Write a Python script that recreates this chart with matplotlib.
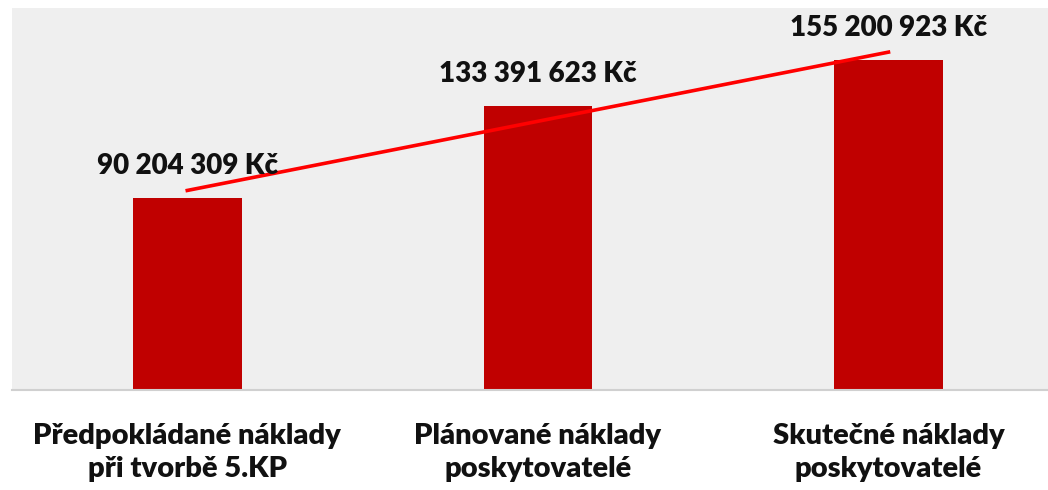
import numpy as np
import matplotlib
matplotlib.use("Agg")
from matplotlib import pyplot as plt

# data
categories = ["Předpokládané náklady\npři tvorbě 5.KP",
              "Plánované náklady\nposkytovatelé",
              "Skutečné náklady\nposkytovatelé"]
values = [90204309, 133391623, 155200923]
value_labels = ["90 204 309 Kč", "133 391 623 Kč", "155 200 923 Kč"]

plt.rcParams['font.family'] = ['Lato', 'DejaVu Sans']

fig = plt.figure(figsize=(10.48, 4.9), dpi=100)
ax = fig.add_axes([12 / 1048, 1 - 390 / 490, 1 - 12 / 1048, 382 / 490])
ax.set_facecolor('#efefef')

x = np.arange(len(values))
ax.bar(x, values, width=0.31, color='#c00000', zorder=2)

# linear trendline through the bars
k, q = np.polyfit(x, values, 1)
ax.plot(x[[0, -1]], k * x[[0, -1]] + q, color='#ff0000', linewidth=2.6, zorder=3)

for xi, v, lab in zip(x, values, value_labels):
    ax.annotate(lab, (xi, v), xytext=(0, 23), textcoords='offset points',
                ha='center', va='center', fontsize=20, fontweight='heavy',
                color='#111111', zorder=4)

ax.set_xlim(-0.5, 2.455)
ax.set_ylim(0, 179.5e6)
ax.set_xticks(x)
ax.set_xticklabels(categories, fontsize=21, fontweight='heavy', color='#111111',
                   linespacing=1.3)
ax.tick_params(axis='x', length=0, pad=24)
ax.set_yticks([])
for side in ['top', 'right', 'left']:
    ax.spines[side].set_visible(False)
ax.spines['bottom'].set_color('#d0d0d0')
ax.spines['bottom'].set_linewidth(1.5)

fig.savefig('out.png', dpi=100)
